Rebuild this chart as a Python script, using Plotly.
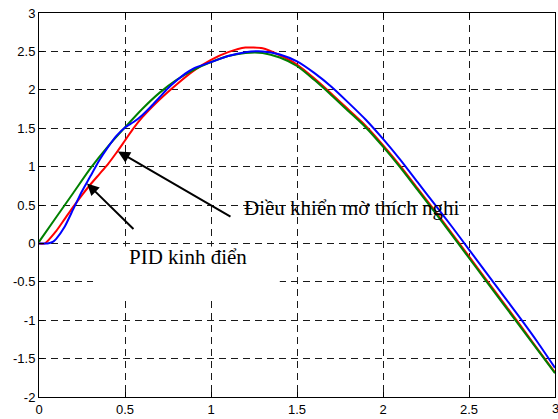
import plotly.graph_objects as go

# ---- data ----
x_green = [0, 0.1, 0.2, 0.3, 0.4, 0.5, 0.6, 0.7, 0.8, 0.9, 1.0, 1.1, 1.2, 1.3, 1.4, 1.5,
           1.6, 1.7, 1.8, 1.9, 2.0, 2.1, 2.2, 2.3, 2.4, 2.5, 2.6, 2.7, 2.8, 2.9, 3.0]
y_green = [0.02, 0.34, 0.66, 0.98, 1.26, 1.51, 1.75, 1.96, 2.13, 2.26, 2.36, 2.44, 2.48, 2.48, 2.42, 2.31,
           2.13, 1.93, 1.72, 1.51, 1.26, 0.99, 0.70, 0.41, 0.11, -0.19, -0.49, -0.79, -1.09, -1.39, -1.69]

x_red = [0, 0.035, 0.1, 0.15, 0.2, 0.25, 0.3, 0.35, 0.4, 0.45, 0.5, 0.55, 0.6, 0.7, 0.8, 0.9, 1.0,
         1.1, 1.2, 1.3, 1.4, 1.5, 1.6, 1.7, 1.8, 1.9, 2.0, 2.1, 2.2, 2.3, 2.4, 2.5, 2.6, 2.7, 2.8, 2.9, 3.0]
y_red = [0, 0.0, 0.16, 0.32, 0.48, 0.63, 0.77, 0.9, 1.03, 1.18, 1.34, 1.5, 1.64, 1.87, 2.07, 2.25, 2.39,
         2.49, 2.55, 2.54, 2.45, 2.33, 2.15, 1.95, 1.74, 1.53, 1.28, 1.01, 0.72, 0.43, 0.13, -0.17, -0.47, -0.77, -1.07, -1.38, -1.68]

x_blue = [0, 0.05, 0.08, 0.1, 0.15, 0.2, 0.25, 0.28, 0.3, 0.35, 0.4, 0.45, 0.5, 0.55, 0.6, 0.65, 0.7,
          0.75, 0.8, 0.85, 0.9, 1.0, 1.1, 1.2, 1.3, 1.4, 1.5, 1.6, 1.7, 1.8, 1.9, 2.0, 2.1, 2.2, 2.3,
          2.4, 2.5, 2.6, 2.7, 2.8, 2.9, 3.0]
y_blue = [0, 0.0, 0.02, 0.06, 0.22, 0.45, 0.68, 0.8, 0.88, 1.08, 1.25, 1.4, 1.51, 1.58, 1.67, 1.78, 1.9,
          2.02, 2.12, 2.21, 2.28, 2.36, 2.44, 2.49, 2.5, 2.46, 2.37, 2.22, 2.04, 1.83, 1.61, 1.36, 1.09, 0.8, 0.51,
          0.22, -0.08, -0.38, -0.68, -0.98, -1.29, -1.62]

x_ticks = [0, 0.5, 1, 1.5, 2, 2.5, 3]
x_tick_labels = ["0", "0.5", "1", "1.5", "2", "2.5", "3"]
y_ticks = [-2, -1.5, -1, -0.5, 0, 0.5, 1, 1.5, 2, 2.5, 3]
y_tick_labels = ["-2", "-1.5", "-1", "-0.5", "0", "0.5", "1", "1.5", "2", "2.5", "3"]

label_pid = "PID kinh điển"
label_fuzzy = "Điều khiển mờ thích nghi"

tick_font = dict(family="Liberation Sans, Arial", size=13, color="black")

fig = go.Figure()
fig.add_trace(go.Scatter(x=x_red, y=y_red, mode="lines",
                         line=dict(color="#ff0000", width=2, shape="spline", smoothing=0.6)))
fig.add_trace(go.Scatter(x=x_green, y=y_green, mode="lines",
                         line=dict(color="#008000", width=2, shape="spline", smoothing=0.6)))
fig.add_trace(go.Scatter(x=x_blue, y=y_blue, mode="lines",
                         line=dict(color="#0000ff", width=2, shape="spline", smoothing=0.6)))

# white box behind the PID label
fig.add_shape(type="rect", xref="x", yref="y", x0=0.314, x1=1.40, y0=-0.74, y1=-0.04,
              fillcolor="white", line=dict(width=0), layer="between")

axis_common = dict(showline=True, linecolor="black", linewidth=1, mirror="ticks",
                   ticks="inside", ticklen=5, tickcolor="black",
                   showgrid=True, gridcolor="#1a1a1a", gridwidth=1, griddash="7px,5px",
                   zeroline=False, tickfont=tick_font)

fig.update_xaxes(range=[0, 3], tickvals=x_ticks[:-1], ticktext=x_tick_labels[:-1], **axis_common)
fig.update_yaxes(range=[-2, 3], tickvals=y_ticks, ticktext=y_tick_labels, **axis_common)

# last x tick label (clipped at the right edge, as in the original)
fig.add_annotation(x=x_ticks[-1], y=0, xref="x", yref="paper", text=x_tick_labels[-1],
                   showarrow=False, xanchor="center", yanchor="top", yshift=-2, font=tick_font)

fig.add_annotation(x=0.279, y=0.781, ax=0.558, ay=0.169, xref="x", yref="y", axref="x", ayref="y",
                   text="", showarrow=True, arrowhead=2, arrowsize=1.2, arrowwidth=2, arrowcolor="black")
fig.add_annotation(x=0.459, y=1.198, ax=1.122, ay=0.338, xref="x", yref="y", axref="x", ayref="y",
                   text="", showarrow=True, arrowhead=2, arrowsize=1.2, arrowwidth=2, arrowcolor="black")

fig.add_annotation(x=0.512, y=-0.18, xref="x", yref="y", text=label_pid, showarrow=False,
                   xanchor="left", yanchor="middle",
                   font=dict(family="Liberation Serif, Times New Roman", size=21, color="black"))
fig.add_annotation(x=1.18, y=0.456, xref="x", yref="y", text=label_fuzzy, showarrow=False,
                   xanchor="left", yanchor="middle",
                   font=dict(family="Liberation Serif, Times New Roman", size=21, color="black"))

fig.update_layout(width=558, height=419, margin=dict(l=39, r=3, t=13, b=22),
                  plot_bgcolor="white", paper_bgcolor="white", showlegend=False)

fig.write_html("out.html")
